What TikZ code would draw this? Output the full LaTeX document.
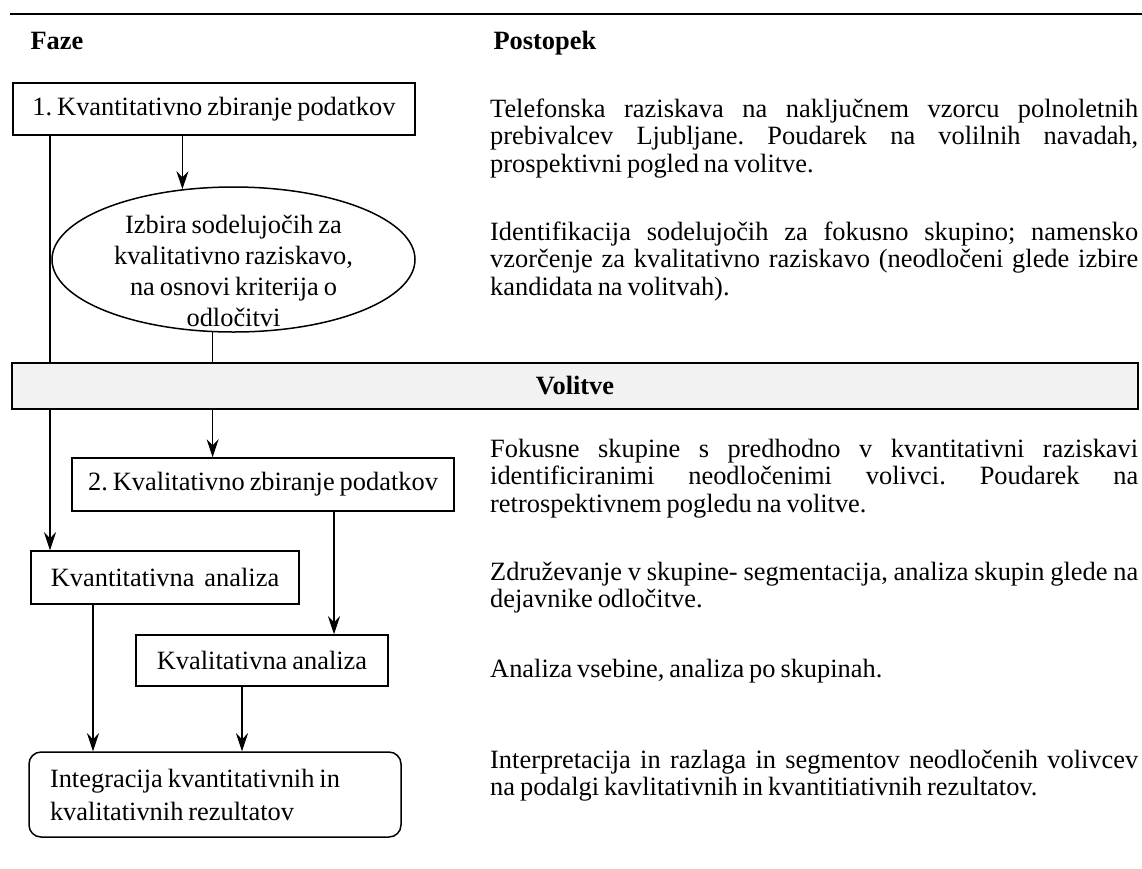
\documentclass[tikz,border=0pt]{standalone}
\usepackage{fontspec}
\setmainfont{Liberation Serif}[WordSpace={0.75,2,1}]
\usetikzlibrary{shapes.geometric,arrows.meta}

\newcommand\besedilo{\fontsize{26.4}{30.4}\selectfont}
\newcommand\polna[1]{\makebox[648pt][s]{#1}}
\definecolor{barfill}{RGB}{242,242,242}

\begin{document}
\begin{tikzpicture}[x=1pt,y=-1pt,
    every node/.style={font=\besedilo,execute at begin node={\spaceskip=0pt\xspaceskip=0pt\frenchspacing}},
    box/.style={draw,line width=1.5pt,inner sep=0pt},
    arr/.style={line width=1.3pt,-{Stealth[length=18pt,width=12pt,inset=6pt]}},
    crta/.style={line width=1.3pt},
    opis/.style={anchor=base west,text width=648pt,align=left,inner sep=0pt,font=\fontsize{26.4}{27.6}\selectfont}]
    \useasboundingbox (0,0) rectangle (1142,868);
    \draw[line width=2pt] (10,14) -- (1142,14);
    % glava
    \node[anchor=base west,font=\besedilo\bfseries] (faze) at (27,49) {Faze};
    \node[anchor=base west,font=\besedilo\bfseries] (postopek) at (490,49) {Postopek};
    % faze
    \begin{scope}[every node/.append style={box}]
        \node[minimum width=402,minimum height=52] (faza1) at (214,109) {1. Kvantitativno zbiranje podatkov};
        \node[ellipse,minimum width=363,minimum height=145] (izbira) at (233.5,259.5) {};
        \node[fill=barfill,minimum width=1126,minimum height=46,font=\besedilo\bfseries] (volitve) at (575,386) {Volitve};
        \node[minimum width=382,minimum height=53] (faza2) at (263,484.5) {2. Kvalitativno zbiranje podatkov};
        \node[minimum width=268,minimum height=53] (kvant) at (165,577.5) {Kvantitativna\ \ analiza};
        \node[minimum width=252,minimum height=51] (kval) at (262,660.5) {Kvalitativna analiza};
        \node[rounded corners=12pt,minimum width=372,minimum height=85,text width=330,align=left,inner xsep=21,
              font=\fontsize{26.4}{33}\selectfont] (integracija) at (215,794.5)
              {Integracija kvantitativnih in\\kvalitativnih rezultatov};
    \end{scope}
    \node[align=center,inner sep=0pt,font=\fontsize{26.4}{31}\selectfont] (izbiratekst) at (233.5,271)
        {Izbira sodelujočih za\\kvalitativno raziskavo,\\na osnovi kriterija o\\odločitvi};
    % povezave
    \coordinate (xl) at (50,0);
    \coordinate (xm) at (334,0);
    \coordinate (xk) at (93,0);
    \coordinate (xq) at (242,0);
    \draw[crta] (faza1.south -| xl) -- (volitve.north -| xl);
    \draw[arr] (faza1.south -| izbira.126) -- (izbira.126);
    \draw[crta] (izbira.254) -- (izbira.254 |- volitve.north);
    \draw[arr] (volitve.south -| xl) -- (kvant.north -| xl);
    \draw[arr] (izbira.254 |- volitve.south) -- (izbira.254 |- faza2.north);
    \draw[arr] (faza2.south -| xm) -- (kval.north -| xm);
    \draw[arr] (kvant.south -| xk) -- (integracija.north -| xk);
    \draw[arr] (kval.south -| xq) -- (integracija.north -| xq);
    % postopek
    \node[opis] (p1) at (490,117) {\polna{Telefonska raziskava na naključnem vzorcu polnoletnih}\\
        \polna{prebivalcev Ljubljane. Poudarek na volilnih navadah,}\\prospektivni pogled na volitve.};
    \node[opis] (p2) at (490,240) {\polna{Identifikacija sodelujočih za fokusno skupino; namensko}\\
        \polna{vzorčenje za kvalitativno raziskavo (neodločeni glede izbire}\\kandidata na volitvah).};
    \node[opis] (p3) at (490,457) {\polna{Fokusne skupine s predhodno v kvantitativni raziskavi}\\
        \polna{identificiranimi neodločenimi volivci. Poudarek na}\\retrospektivnem pogledu na volitve.};
    \node[opis] (p4) at (490,580) {\polna{Združevanje v skupine- segmentacija, analiza skupin glede na}\\dejavnike odločitve.};
    \node[opis] (p5) at (490,677) {Analiza vsebine, analiza po skupinah.};
    \node[opis] (p6) at (490,768) {\polna{Interpretacija in razlaga in segmentov neodločenih volivcev}\\
        na podalgi kavlitativnih in kvantitiativnih rezultatov.};
\end{tikzpicture}
\end{document}
